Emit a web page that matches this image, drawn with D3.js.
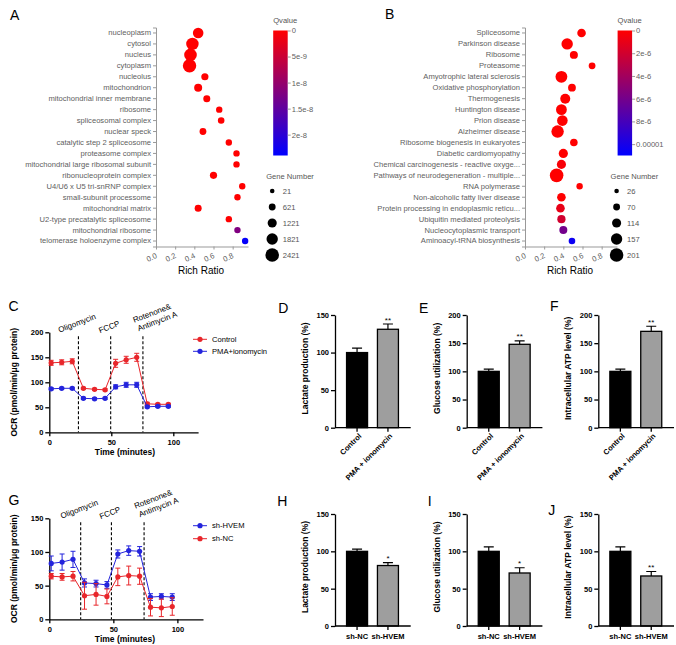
<!DOCTYPE html>
<html>
<head>
<meta charset="utf-8">
<script src="https://cdn.jsdelivr.net/npm/d3@7"></script>
<style>
  body { margin: 0; background: #fff; }
  svg { font-family: "Liberation Sans", Arial, sans-serif; }
  .dotaxis text { fill: #606060; font-size: 7.6px; }
  .dotaxis path, .dotaxis line { stroke: #999; }
  .bold text { font-weight: bold; font-size: 7.5px; fill: #000; }
  .bold path, .bold line { stroke: #000; stroke-width: 1.3px; }
</style>
</head>
<body>
<svg id="fig" width="676" height="645"></svg>
<script>

// ---- panel A : GO terms
const termsA = ["nucleoplasm", "cytosol", "nucleus", "cytoplasm", "nucleolus", "mitochondrion",
  "mitochondrial inner membrane", "ribosome", "spliceosomal complex", "nuclear speck",
  "catalytic step 2 spliceosome", "proteasome complex", "mitochondrial large ribosomal subunit",
  "ribonucleoprotein complex", "U4/U6 x U5 tri-snRNP complex", "small-subunit processome",
  "mitochondrial matrix", "U2-type precatalytic spliceosome", "mitochondrial ribosome",
  "telomerase holoenzyme complex"];
const ratioA = [0.44, 0.38, 0.36, 0.35, 0.51, 0.44, 0.53, 0.66, 0.68, 0.49,
  0.76, 0.84, 0.84, 0.60, 0.90, 0.85, 0.44, 0.76, 0.85, 0.93];
const genesA = [1620, 2100, 2150, 2370, 710, 930, 660, 500, 550, 610,
  500, 500, 500, 710, 500, 500, 660, 500, 500, 500];
const qvalA = [0, 0, 0, 0, 0, 0, 0, 0, 0, 0, 0, 0, 0, 0, 0, 0, 0, 0, 1.2e-8, 2.35e-8];
const geneTicksA = [21, 621, 1221, 1821, 2421];
const qTicksA = [0, 5e-9, 1e-8, 1.5e-8, 2e-8];
const qLabelsA = ["0", "5e-9", "1e-8", "1.5e-8", "2e-8"];

// ---- panel B : KEGG pathways
const termsB = ["Spliceosome", "Parkinson disease", "Ribosome", "Proteasome",
  "Amyotrophic lateral sclerosis", "Oxidative phosphorylation", "Thermogenesis",
  "Huntington disease", "Prion disease", "Alzheimer disease", "Ribosome biogenesis in eukaryotes",
  "Diabetic cardiomyopathy", "Chemical carcinogenesis - reactive oxyge...",
  "Pathways of neurodegeneration - multiple...", "RNA polymerase",
  "Non-alcoholic fatty liver disease", "Protein processing in endoplasmic reticu...",
  "Ubiquitin mediated proteolysis", "Nucleocytoplasmic transport", "Aminoacyl-tRNA biosynthesis"];
const ratioB = [0.59, 0.44, 0.51, 0.70, 0.38, 0.49, 0.42, 0.38, 0.39, 0.34,
  0.51, 0.40, 0.38, 0.33, 0.57, 0.38, 0.37, 0.38, 0.40, 0.49];
const genesB = [104, 158, 92, 69, 166, 88, 131, 147, 143, 178,
  84, 115, 115, 201, 61, 104, 104, 96, 92, 65];
const qvalB = [0, 0, 0, 0, 0, 0, 0, 0, 0, 0, 0, 0, 3e-7, 0, 0, 0, 1e-6, 2e-6, 6e-6, 1.05e-5];
const geneTicksB = [26, 70, 114, 157, 201];
const qTicksB = [0, 2e-6, 4e-6, 6e-6, 8e-6, 1e-5];
const qLabelsB = ["0", "2e-6", "4e-6", "6e-6", "8e-6", "0.00001"];

// ---- panels C and G : OCR time course
const timeOCR = [1.5, 10, 18.5, 27.5, 36.5, 45, 53.5, 62, 70.5, 79, 87.5, 96];
const ocrControl = [139, 140, 142, 88, 86, 85, 138, 145, 150, 57, 56, 56];
const ocrControlErr = [5, 5, 5, 2, 2, 2, 8, 7, 8, 3, 2, 2];
const ocrPMA = [87, 88, 88, 68, 67, 68, 91, 95, 95, 51, 52, 52];
const ocrPMAErr = [2, 2, 2, 2, 2, 2, 4, 5, 5, 2, 2, 2];
const ocrHVEM = [83, 85, 89, 54, 53, 51, 97, 102, 101, 33, 34, 33];
const ocrHVEMErr = [11, 12, 12, 6, 5, 5, 6, 7, 7, 5, 4, 5];
const ocrNC = [64, 63, 64, 35, 37, 34, 63, 65, 64, 18, 17, 19];
const ocrNCErr = [4, 5, 7, 20, 16, 11, 13, 14, 12, 13, 13, 13];
const injTimesC = [23.5, 49.5, 75.5];
const injTimesG = [24.5, 48.5, 74];
const injNames = [["Oligomycin"], ["FCCP"], ["Rotenone&", "Antimycin A"]];

// ---- panels D-F and H-J : bar charts
const groupsTop = ["Control", "PMA + ionomycin"];
const groupsBottom = ["sh-NC", "sh-HVEM"];
const lactateTop = [100, 131], lactateTopErr = [6, 7];
const glucoseTop = [100, 148], glucoseTopErr = [4, 6];
const atpTop = [100, 171], atpTopErr = [4, 9];
const lactateBottom = [100, 81], lactateBottomErr = [3, 4];
const glucoseBottom = [100, 71], glucoseBottomErr = [6, 7];
const atpBottom = [100, 67], atpBottomErr = [6, 6];
const sigTop = ["", "**"];
const sigBottomLactate = ["", "*"], sigBottomGlucose = ["", "*"], sigBottomAtp = ["", "**"];

const RED = "#e8262b", BLUE = "#2424dc";

const svg = d3.select('#fig');

var letter = function(txt, x, y) {
  svg.append('text').attr('x', x).attr('y', y).style('font-size', '14px').text(txt);
}

var dotPanel = function(c) {
  var g = svg.append('g');
  var rows = c.terms.map((t, i) => ({term: t, ratio: c.ratio[i], genes: c.genes[i], q: c.q[i]}));
  var y = d3.scaleBand().domain(c.terms).range([27.5, 246.5]);
  var x = d3.scaleLinear().domain([0, 0.96]).range([c.axisX, c.axisX + 92]);
  var r = d3.scaleLinear().domain(d3.extent(c.geneTicks)).range([2.3, 6.8]);
  var col = d3.scaleLinear().domain([0, c.qMax]).range(['#ff0000', '#0000ff']);

  g.append('g').attr('class', 'dotaxis')
    .attr('transform', `translate(${c.axisX},0)`)
    .call(d3.axisLeft(y).tickSize(3).tickSizeOuter(3).tickPadding(2));

  var xa = g.append('g').attr('class', 'dotaxis')
    .attr('transform', 'translate(0,246.5)')
    .call(d3.axisBottom(x).tickValues([0, 0.2, 0.4, 0.6, 0.8]).tickSize(3).tickSizeOuter(0));
  xa.selectAll('text')
    .attr('text-anchor', 'end').attr('x', 0).attr('y', 0).attr('dy', 0)
    .attr('transform', 'translate(1,11) rotate(-25)');

  g.append('text').attr('x', c.axisX + 45).attr('y', 274)
    .attr('text-anchor', 'middle').style('font-size', '10px').text('Rich Ratio');

  g.append('g').selectAll('circle').data(rows).enter().append('circle')
    .attr('cx', d => x(d.ratio))
    .attr('cy', d => y(d.term) + y.bandwidth() / 2)
    .attr('r', d => r(d.genes))
    .attr('fill', d => col(d.q));

  // colour bar
  var grad = svg.append('defs').append('linearGradient').attr('id', c.id)
    .attr('x1', 0).attr('y1', 0).attr('x2', 0).attr('y2', 1);
  grad.append('stop').attr('offset', '0%').attr('stop-color', '#ff0000');
  grad.append('stop').attr('offset', '100%').attr('stop-color', '#0000ff');
  var qy = d3.scaleLinear().domain([0, c.qMax]).range([30.5, 155.5]);
  g.append('text').attr('x', c.cbX).attr('y', 23).style('font-size', '7.6px').attr('fill', '#555').text('Qvalue');
  g.append('rect').attr('x', c.cbX).attr('y', 30.5).attr('width', 14.5).attr('height', 125)
    .attr('fill', `url(#${c.id})`);
  var ca = g.append('g').attr('class', 'dotaxis')
    .attr('transform', `translate(${c.cbX + 14.5},0)`)
    .call(d3.axisRight(qy).tickValues(c.qTicks).tickSize(3).tickPadding(1)
      .tickFormat((d, i) => c.qLabels[i]));
  ca.select('.domain').remove();

  // size legend
  var ly = d3.scalePoint().domain(c.geneTicks).range([191, 255]);
  g.append('text').attr('x', c.cbX - 7).attr('y', 179).style('font-size', '7.6px')
    .attr('fill', '#555').text('Gene Number');
  c.geneTicks.forEach(function(n) {
    g.append('circle').attr('cx', c.cbX - 1).attr('cy', ly(n)).attr('r', r(n)).attr('fill', '#000');
    g.append('text').attr('x', c.cbX + 9.5).attr('y', ly(n)).attr('dy', '0.35em')
      .style('font-size', '7.6px').attr('fill', '#555').text(n);
  });
}

var lineChart = function(c) {
  var g = svg.append('g');
  var x = d3.scaleLinear().domain([0, 120]).range([49.3, c.xEnd]);
  var y = d3.scaleLinear().domain([0, c.yMax]).range([c.yBottom, c.yTop]);

  g.append('g').attr('class', 'bold').attr('transform', `translate(0,${c.yBottom})`)
    .call(d3.axisBottom(x).tickValues([0, 50, 100]).tickSize(4).tickSizeOuter(0).tickPadding(3));
  g.append('g').attr('class', 'bold').attr('transform', 'translate(49.3,0)')
    .call(d3.axisLeft(y).tickValues(c.yTicks).tickSize(4).tickSizeOuter(0).tickPadding(2));

  // injection markers
  var dx = [-19, -10.7, -8.7], dy = [0.5, 1, -9.5];
  c.inj.forEach(function(t, i) {
    g.append('line').attr('x1', x(t)).attr('x2', x(t))
      .attr('y1', c.yTop + 4).attr('y2', c.yBottom)
      .attr('stroke', '#000').attr('stroke-width', 1.1).attr('stroke-dasharray', '3,2');
    injNames[i].forEach(function(s, j) {
      var tx = x(t) + dx[i] + j * 4.5, ty = c.yTop + dy[i] + j * 8.5;
      g.append('text').attr('transform', `translate(${tx},${ty}) rotate(-21)`)
        .style('font-size', '8px').text(s);
    });
  });

  c.series.forEach(function(s, k) {
    var pts = timeOCR.map((t, i) => ({t: t, v: s.values[i], e: s.err[i]}));
    var sg = g.append('g').attr('stroke', s.color).attr('fill', s.color);
    sg.append('path').datum(pts).attr('fill', 'none').attr('stroke-width', 1)
      .attr('d', d3.line().x(d => x(d.t)).y(d => y(d.v)));
    sg.selectAll('.eb').data(pts).enter().append('path')
      .attr('fill', 'none').attr('stroke-width', 1)
      .attr('d', d => `M${x(d.t) - 2.5},${y(d.v + d.e)}H${x(d.t) + 2.5}M${x(d.t)},${y(d.v + d.e)}V${y(d.v - d.e)}M${x(d.t) - 2.5},${y(d.v - d.e)}H${x(d.t) + 2.5}`);
    sg.selectAll('circle').data(pts).enter().append('circle')
      .attr('cx', d => x(d.t)).attr('cy', d => y(d.v)).attr('r', 2.6).attr('stroke', 'none');

    // legend
    var ly = c.legendY + k * c.legendStep;
    sg.append('line').attr('x1', 193).attr('x2', 207).attr('y1', ly).attr('y2', ly).attr('stroke-width', 1);
    sg.append('circle').attr('cx', 200).attr('cy', ly).attr('r', 2.6).attr('stroke', 'none');
    g.append('text').attr('x', 212).attr('y', ly).attr('dy', '0.35em')
      .style('font-size', '7.6px').text(s.name);
  });

  g.append('text').attr('transform', `translate(17,${(c.yTop + c.yBottom) / 2}) rotate(-90)`)
    .attr('text-anchor', 'middle').style('font-size', '8.5px').style('font-weight', 'bold')
    .text('OCR (pmol/min/μg protein)');
  g.append('text').attr('x', 125).attr('y', c.yBottom + 23)
    .attr('text-anchor', 'middle').style('font-size', '8.5px').style('font-weight', 'bold')
    .text('Time (minutes)');
}

var barChart = function(c) {
  var g = svg.append('g');
  var bars = c.groups.map((n, i) => ({name: n, v: c.values[i], e: c.err[i], s: c.sig[i]}));
  var x = d3.scaleBand().domain(c.groups).range([c.axisX + 6, c.axisX + 69])
    .paddingInner(0.32).paddingOuter(0.18);
  var y = d3.scaleLinear().domain([0, c.yMax]).range([c.yBottom, c.yTop]);
  var fills = ['#000', '#9e9e9e'];

  g.selectAll('rect').data(bars).enter().append('rect')
    .attr('x', d => x(d.name)).attr('width', x.bandwidth())
    .attr('y', d => y(d.v)).attr('height', d => y(0) - y(d.v))
    .attr('fill', (d, i) => fills[i]).attr('stroke', '#000').attr('stroke-width', 1.3);

  g.selectAll('.eb').data(bars).enter().append('path')
    .attr('fill', 'none').attr('stroke', '#000').attr('stroke-width', 1.2)
    .attr('d', d => {
      var cx = x(d.name) + x.bandwidth() / 2;
      return `M${cx},${y(d.v)}V${y(d.v + d.e)}M${cx - 5},${y(d.v + d.e)}H${cx + 5}`;
    });

  g.selectAll('.sig').data(bars).enter().append('text')
    .attr('x', d => x(d.name) + x.bandwidth() / 2).attr('y', d => y(d.v + d.e) - 1.5)
    .attr('text-anchor', 'middle').style('font-size', '8px').text(d => d.s);

  var xa = g.append('g').attr('class', 'bold').attr('transform', `translate(0,${c.yBottom})`);
  xa.append('path').attr('d', `M${c.axisX},0H${c.axisX + 75.7}`);
  bars.forEach(function(d) {
    var cx = x(d.name) + x.bandwidth() / 2;
    xa.append('line').attr('x1', cx).attr('x2', cx).attr('y1', 0).attr('y2', 4);
    if (c.rotate) {
      xa.append('text').attr('text-anchor', 'end').attr('dy', '0.35em')
        .attr('transform', `translate(${cx + 3},7) rotate(-45)`).text(d.name);
    } else {
      xa.append('text').attr('text-anchor', 'middle').attr('x', cx).attr('y', 13).text(d.name);
    }
  });

  g.append('g').attr('class', 'bold').attr('transform', `translate(${c.axisX},0)`)
    .call(d3.axisLeft(y).tickValues(c.yTicks).tickSize(4).tickSizeOuter(0).tickPadding(2));

  g.append('text')
    .attr('transform', `translate(${c.axisX - 27},${(c.yTop + c.yBottom) / 2 - 3}) rotate(-90)`)
    .attr('text-anchor', 'middle').style('font-size', '8.5px').style('font-weight', 'bold')
    .text(c.label);
}

// ---- draw
dotPanel({id: 'gradA', terms: termsA, ratio: ratioA, genes: genesA, q: qvalA, qMax: 2.4e-8,
  qTicks: qTicksA, qLabels: qLabelsA, geneTicks: geneTicksA, axisX: 156, cbX: 273.2});
dotPanel({id: 'gradB', terms: termsB, ratio: ratioB, genes: genesB, q: qvalB, qMax: 1.1e-5,
  qTicks: qTicksB, qLabels: qLabelsB, geneTicks: geneTicksB, axisX: 525, cbX: 617.6});

lineChart({yMax: 200, yTicks: [0, 50, 100, 150, 200], yTop: 332.3, yBottom: 432.3, xEnd: 198.1,
  inj: injTimesC, legendY: 339.3, legendStep: 12,
  series: [{name: 'Control', values: ocrControl, err: ocrControlErr, color: RED},
           {name: 'PMA+ionomycin', values: ocrPMA, err: ocrPMAErr, color: BLUE}]});
lineChart({yMax: 150, yTicks: [0, 50, 100, 150], yTop: 518.3, yBottom: 619.3, xEnd: 203,
  inj: injTimesG, legendY: 525.7, legendStep: 13,
  series: [{name: 'sh-HVEM', values: ocrHVEM, err: ocrHVEMErr, color: BLUE},
           {name: 'sh-NC', values: ocrNC, err: ocrNCErr, color: RED}]});

barChart({axisX: 335, yMax: 150, yTicks: [0, 50, 100, 150], yTop: 315, yBottom: 427.7,
  groups: groupsTop, values: lactateTop, err: lactateTopErr, sig: sigTop, rotate: true,
  label: 'Lactate production (%)'});
barChart({axisX: 466.7, yMax: 200, yTicks: [0, 50, 100, 150, 200], yTop: 315, yBottom: 427.7,
  groups: groupsTop, values: glucoseTop, err: glucoseTopErr, sig: sigTop, rotate: true,
  label: 'Glucose utilization (%)'});
barChart({axisX: 598.3, yMax: 200, yTicks: [0, 50, 100, 150, 200], yTop: 315, yBottom: 427.7,
  groups: groupsTop, values: atpTop, err: atpTopErr, sig: sigTop, rotate: true,
  label: 'Intracellular ATP level (%)'});
barChart({axisX: 335, yMax: 150, yTicks: [0, 50, 100, 150], yTop: 514, yBottom: 626,
  groups: groupsBottom, values: lactateBottom, err: lactateBottomErr, sig: sigBottomLactate,
  rotate: false, label: 'Lactate production (%)'});
barChart({axisX: 466.7, yMax: 150, yTicks: [0, 50, 100, 150], yTop: 514, yBottom: 626,
  groups: groupsBottom, values: glucoseBottom, err: glucoseBottomErr, sig: sigBottomGlucose,
  rotate: false, label: 'Glucose utilization (%)'});
barChart({axisX: 598.3, yMax: 150, yTicks: [0, 50, 100, 150], yTop: 514, yBottom: 626,
  groups: groupsBottom, values: atpBottom, err: atpBottomErr, sig: sigBottomAtp,
  rotate: false, label: 'Intracellular ATP level (%)'});

letter('A', 10, 20);
letter('B', 385, 19);
letter('C', 8.5, 310.7);
letter('D', 278.3, 312.7);
letter('E', 419, 312.7);
letter('F', 550, 310.7);
letter('G', 8.5, 505);
letter('H', 277.3, 505.7);
letter('I', 427.7, 505.7);
letter('J', 548.3, 515);

</script>
</body>
</html>
